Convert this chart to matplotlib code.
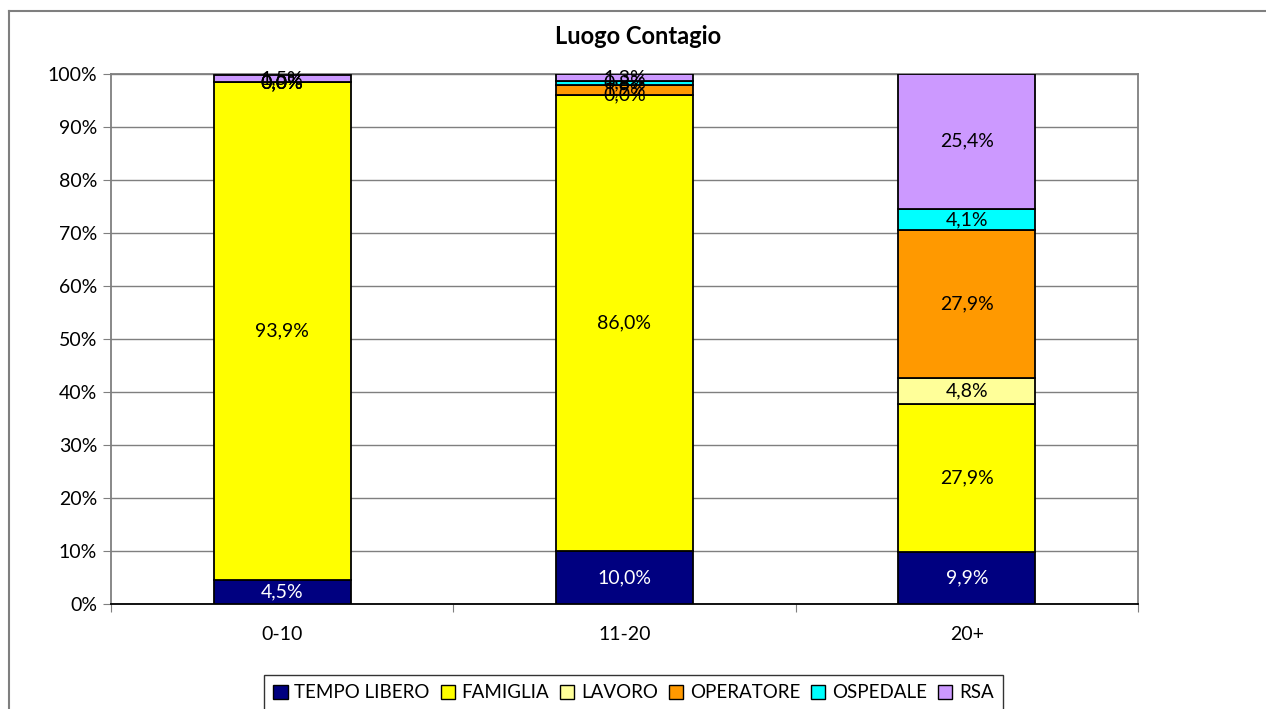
import matplotlib
matplotlib.use("Agg")
import matplotlib.pyplot as plt
from matplotlib.patches import Patch
from matplotlib.lines import Line2D
import numpy as np

plt.rcParams['font.family'] = ['Lato', 'DejaVu Sans']

categories = ["0-10", "11-20", "20+"]
series_names = ["TEMPO LIBERO", "FAMIGLIA", "LAVORO", "OPERATORE", "OSPEDALE", "RSA"]
tempo_libero = [4.5, 10.0, 9.9]
famiglia = [93.9, 86.0, 27.9]
lavoro = [0.0, 0.0, 4.8]
operatore = [0.0, 1.9, 27.9]
ospedale = [0.0, 0.8, 4.1]
rsa = [1.5, 1.3, 25.4]
yticks = [0, 10, 20, 30, 40, 50, 60, 70, 80, 90, 100]

series = [tempo_libero, famiglia, lavoro, operatore, ospedale, rsa]
colors = ["#000080", "#FFFF00", "#FFFF99", "#FF9900", "#00FFFF", "#CC99FF"]
label_colors = ["white", "black", "black", "black", "black", "black"]

W, H = 1266, 709
fig = plt.figure(figsize=(W / 100, H / 100), dpi=100)
ax = fig.add_axes([111 / W, 1 - 604 / H, (1138 - 111) / W, (604 - 74) / H])

x = np.arange(len(categories))
bottom = np.zeros(len(categories))
for vals, col, lc in zip(series, colors, label_colors):
    vals = np.array(vals)
    ax.bar(x, vals, bottom=bottom, width=0.40, color=col, edgecolor="black",
           linewidth=1.3, zorder=3)
    for xi, v, b in zip(x, vals, bottom):
        ax.text(xi, b + v / 2, f"{v:.1f}%".replace(".", ","), ha="center", va="center",
                color=lc, fontsize=14, zorder=4)
    bottom += vals

ax.set_xlim(-0.5, len(categories) - 0.5)
ax.set_ylim(0, 100)
ax.set_yticks(yticks)
ax.set_yticklabels([f"{t}%" for t in yticks], fontsize=14)
ax.yaxis.grid(True, color="#7f7f7f", linewidth=1, zorder=0)
ax.set_axisbelow(True)

ax.set_xticks(np.arange(-0.5, len(categories), 1.0))
ax.set_xticklabels([])
ax.set_xticks(x, minor=True)
ax.set_xticklabels(categories, minor=True, fontsize=14)
ax.tick_params(axis="x", which="minor", length=0, pad=16)
ax.tick_params(axis="x", which="major", length=6, color="#7f7f7f", direction="out")
ax.tick_params(axis="y", length=6, color="#7f7f7f", direction="out", pad=4)

for s in ["left", "right", "top"]:
    ax.spines[s].set_color("#7f7f7f")
    ax.spines[s].set_linewidth(1.3)
ax.spines["bottom"].set_color("black")
ax.spines["bottom"].set_linewidth(1.3)

fig.text(638 / W, 1 - 37 / H, "Luogo Contagio", ha="center", va="center",
         fontsize=17, fontweight="bold")

# outer chart frame (partially visible)
fig.add_artist(Line2D([8.5 / W, 8.5 / W], [0, 1 - 10.5 / H], transform=fig.transFigure,
                      color="#7f7f7f", linewidth=1.5))
fig.add_artist(Line2D([8.5 / W, 1], [1 - 10.5 / H, 1 - 10.5 / H], transform=fig.transFigure,
                      color="#7f7f7f", linewidth=1.5))

handles = [Patch(facecolor=c, edgecolor="black", linewidth=1) for c in colors]
leg = fig.legend(handles, series_names, loc="upper center",
                 bbox_to_anchor=(633.5 / W, 1 - 675 / H), ncol=6, fontsize=13.5,
                 frameon=True, fancybox=False, edgecolor="black",
                 handlelength=0.75, handleheight=0.75, handletextpad=0.35,
                 columnspacing=0.6, borderpad=0.5, borderaxespad=0)
leg.get_frame().set_linewidth(1.0)

fig.savefig("out.png", dpi=100)
